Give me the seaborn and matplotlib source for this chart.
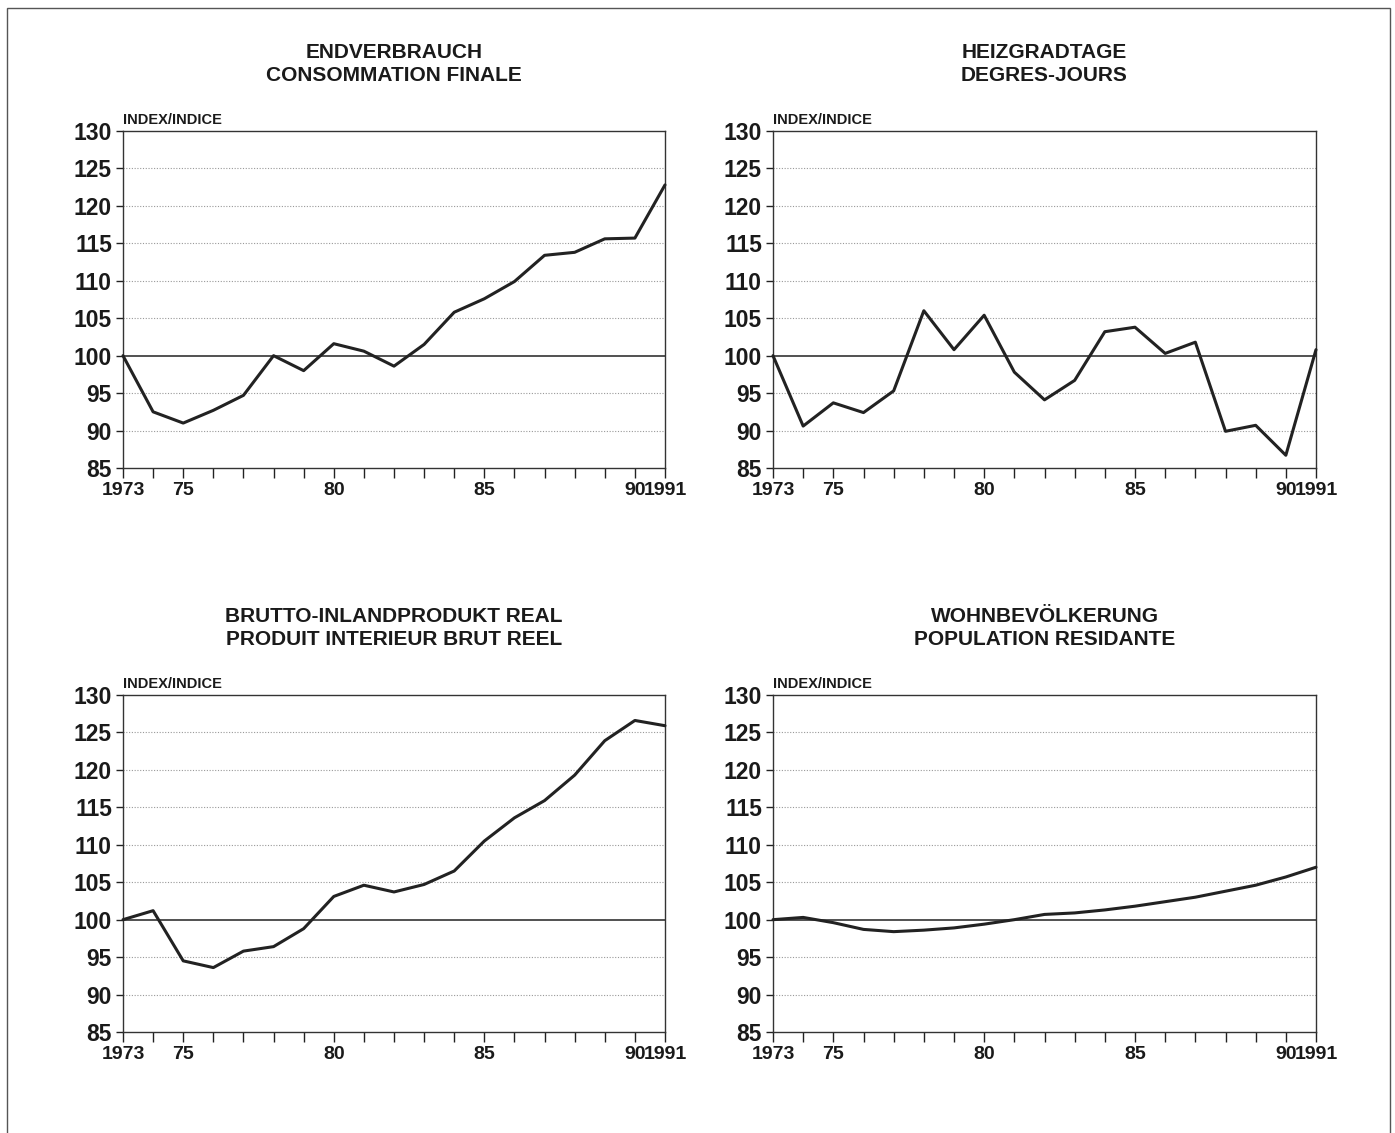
import numpy as np
import pandas as pd
import matplotlib
matplotlib.use("Agg")
import matplotlib.pyplot as plt
import seaborn as sns

years = list(range(1973, 1992))

endverbrauch = [100.0, 92.5, 91.0, 92.7, 94.7, 100.0, 98.0, 101.6, 100.6, 98.6,
                101.5, 105.8, 107.6, 109.9, 113.4, 113.8, 115.6, 115.7, 122.8]
heizgradtage = [100.0, 90.6, 93.7, 92.4, 95.3, 106.0, 100.8, 105.4, 97.8, 94.1,
                96.7, 103.2, 103.8, 100.3, 101.8, 89.9, 90.7, 86.7, 100.8]
bip_real = [100.0, 101.2, 94.5, 93.6, 95.8, 96.4, 98.8, 103.1, 104.6, 103.7,
            104.7, 106.5, 110.5, 113.6, 115.9, 119.3, 123.9, 126.6, 125.9]
wohnbevoelkerung = [100.0, 100.3, 99.6, 98.7, 98.4, 98.6, 98.9, 99.4, 100.0, 100.7,
                    100.9, 101.3, 101.8, 102.4, 103.0, 103.8, 104.6, 105.7, 107.0]

titles = ["ENDVERBRAUCH\nCONSOMMATION FINALE",
          "HEIZGRADTAGE\nDEGRES-JOURS",
          "BRUTTO-INLANDPRODUKT REAL\nPRODUIT INTERIEUR BRUT REEL",
          "WOHNBEVÖLKERUNG\nPOPULATION RESIDANTE"]
series = [endverbrauch, heizgradtage, bip_real, wohnbevoelkerung]

y_ticks = [85, 90, 95, 100, 105, 110, 115, 120, 125, 130]
x_label_map = {1973: "1973", 1975: "75", 1980: "80", 1985: "85", 1990: "90", 1991: "1991"}
unit_label = "INDEX/INDICE"

sns.set_style("white")
plt.rcParams['font.family'] = ['Liberation Sans', 'DejaVu Sans']
plt.rcParams['font.weight'] = 'bold'

fig = plt.figure(figsize=(13.95, 11.33), dpi=100)

# frame round the page
fig.add_artist(plt.Rectangle((7 / 1395, -0.02), (1390 - 7) / 1395, 1 - 8 / 1133 + 0.02,
                             transform=fig.transFigure, fill=False,
                             edgecolor="#555555", linewidth=1.0))

# axes boxes in pixels: left, top, right, bottom
boxes = [(123, 131, 665, 468), (773, 131, 1316, 468),
         (123, 695, 665, 1032), (773, 695, 1316, 1032)]

for box, title, vals in zip(boxes, titles, series):
    l, t, r, b = box
    ax = fig.add_axes([l / 1395, 1 - b / 1133, (r - l) / 1395, (b - t) / 1133])
    df = pd.DataFrame({"year": years, "value": vals})

    for yv in y_ticks[1:-1]:
        if yv == 100:
            ax.axhline(yv, color="#222222", linewidth=1.1, zorder=1)
        else:
            ax.axhline(yv, color="#999999", linewidth=0.8, linestyle=(0, (1, 1.5)), zorder=1)

    sns.lineplot(data=df, x="year", y="value", ax=ax, color="#222222",
                 linewidth=2.2, zorder=3, clip_on=False)

    ax.set_xlim(1973, 1991)
    ax.set_ylim(85, 130)
    ax.set_xticks(years)
    ax.set_xticklabels([x_label_map.get(yr, "") for yr in years])
    ax.set_yticks(y_ticks)
    ax.set_yticklabels([str(v) for v in y_ticks])
    ax.set_xlabel("")
    ax.set_ylabel("")
    ax.tick_params(axis="x", direction="out", length=7, width=1.0, color="#222222",
                   labelsize=14, pad=3, bottom=True)
    ax.tick_params(axis="y", direction="out", length=5, width=1.0, color="#222222",
                   labelsize=16.5, pad=3, left=True)
    for lab in ax.get_xticklabels() + ax.get_yticklabels():
        lab.set_fontweight("bold")
        lab.set_color("#1a1a1a")
    for sp in ax.spines.values():
        sp.set_color("#333333")
        sp.set_linewidth(1.0)

    ax.text(0.0, 1.012, unit_label, transform=ax.transAxes, ha="left", va="bottom",
            fontsize=10.5, fontweight="bold", color="#1a1a1a")
    ax.text(0.5, 1 + 46 / 337, title, transform=ax.transAxes, ha="center", va="bottom",
            fontsize=15, fontweight="bold", color="#1a1a1a", linespacing=1.3)

fig.savefig("out.png", dpi=100, facecolor="white")
